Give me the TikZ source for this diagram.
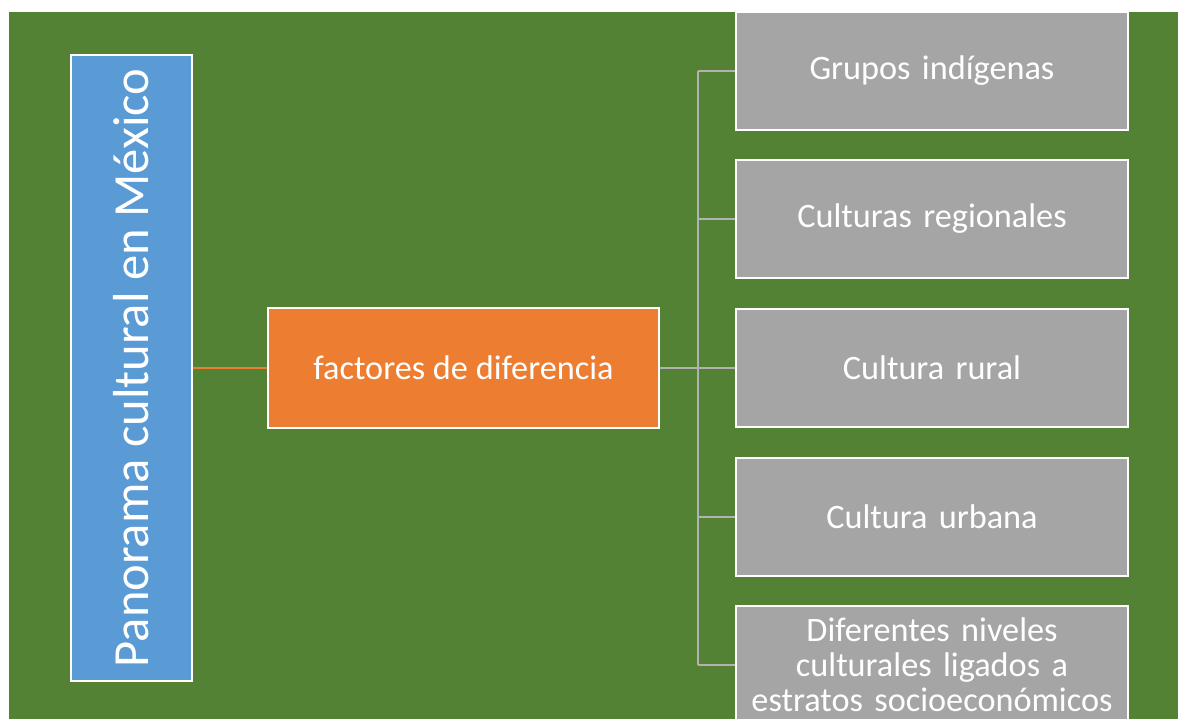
\documentclass[tikz,border=0pt]{standalone}
\usepackage{fontspec}
\setmainfont{Carlito}
\usetikzlibrary{positioning}
\definecolor{fondo}{HTML}{548235}
\definecolor{azul}{HTML}{5B9BD5}
\definecolor{naranja}{HTML}{ED7D31}
\definecolor{gris}{HTML}{A5A5A5}
\begin{document}
\begin{tikzpicture}[x=0.02cm,y=-0.02cm,
    caja/.style={draw=white,line width=0.04cm,text=white,align=center,inner sep=0pt},
    rama/.style={gris!85!white,line width=0.05cm}]
     \useasboundingbox (0,0) rectangle (1178,719);
     \fill[fondo] (9,12) rectangle (1178,719);

     \node[caja,fill=azul,rotate=90,minimum width=12.54cm,minimum height=2.42cm,
           font=\fontsize{28.8}{34}\selectfont] (panorama) at (131.5,368) {Panorama cultural en México};
     \node[caja,fill=naranja,minimum width=7.82cm,minimum height=2.4cm,
           font=\fontsize{19.5}{20}\selectfont] (factores) at (463.5,368) {factores de diferencia};

\begin{scope}[every node/.style={caja,fill=gris,minimum width=7.84cm,minimum height=2.38cm,
           text width=7.6cm,font=\fontsize{19.5}{20}\selectfont}]
     \node (grupos) at (932,71) {Grupos indígenas};
     \node (regionales) at (932,219) {Culturas regionales};
     \node (rural) at (932,368) {Cultura rural};
     \node (urbana) at (932,517) {Cultura urbana};
     \node (niveles) at (932,665) {Diferentes niveles\\culturales ligados a\\estratos socioeconómicos};
\end{scope}

     \draw[naranja,line width=0.05cm] (panorama) -- (factores);
     \coordinate (tronco) at (698,368);
     \draw[rama] (factores.east) -- (tronco);
     \draw[rama] (grupos.west -| tronco) -- (niveles.west -| tronco);
     \foreach \n in {grupos,regionales,rural,urbana,niveles}
        \draw[rama] (\n.west -| tronco) -- (\n.west);
\end{tikzpicture}
\end{document}
